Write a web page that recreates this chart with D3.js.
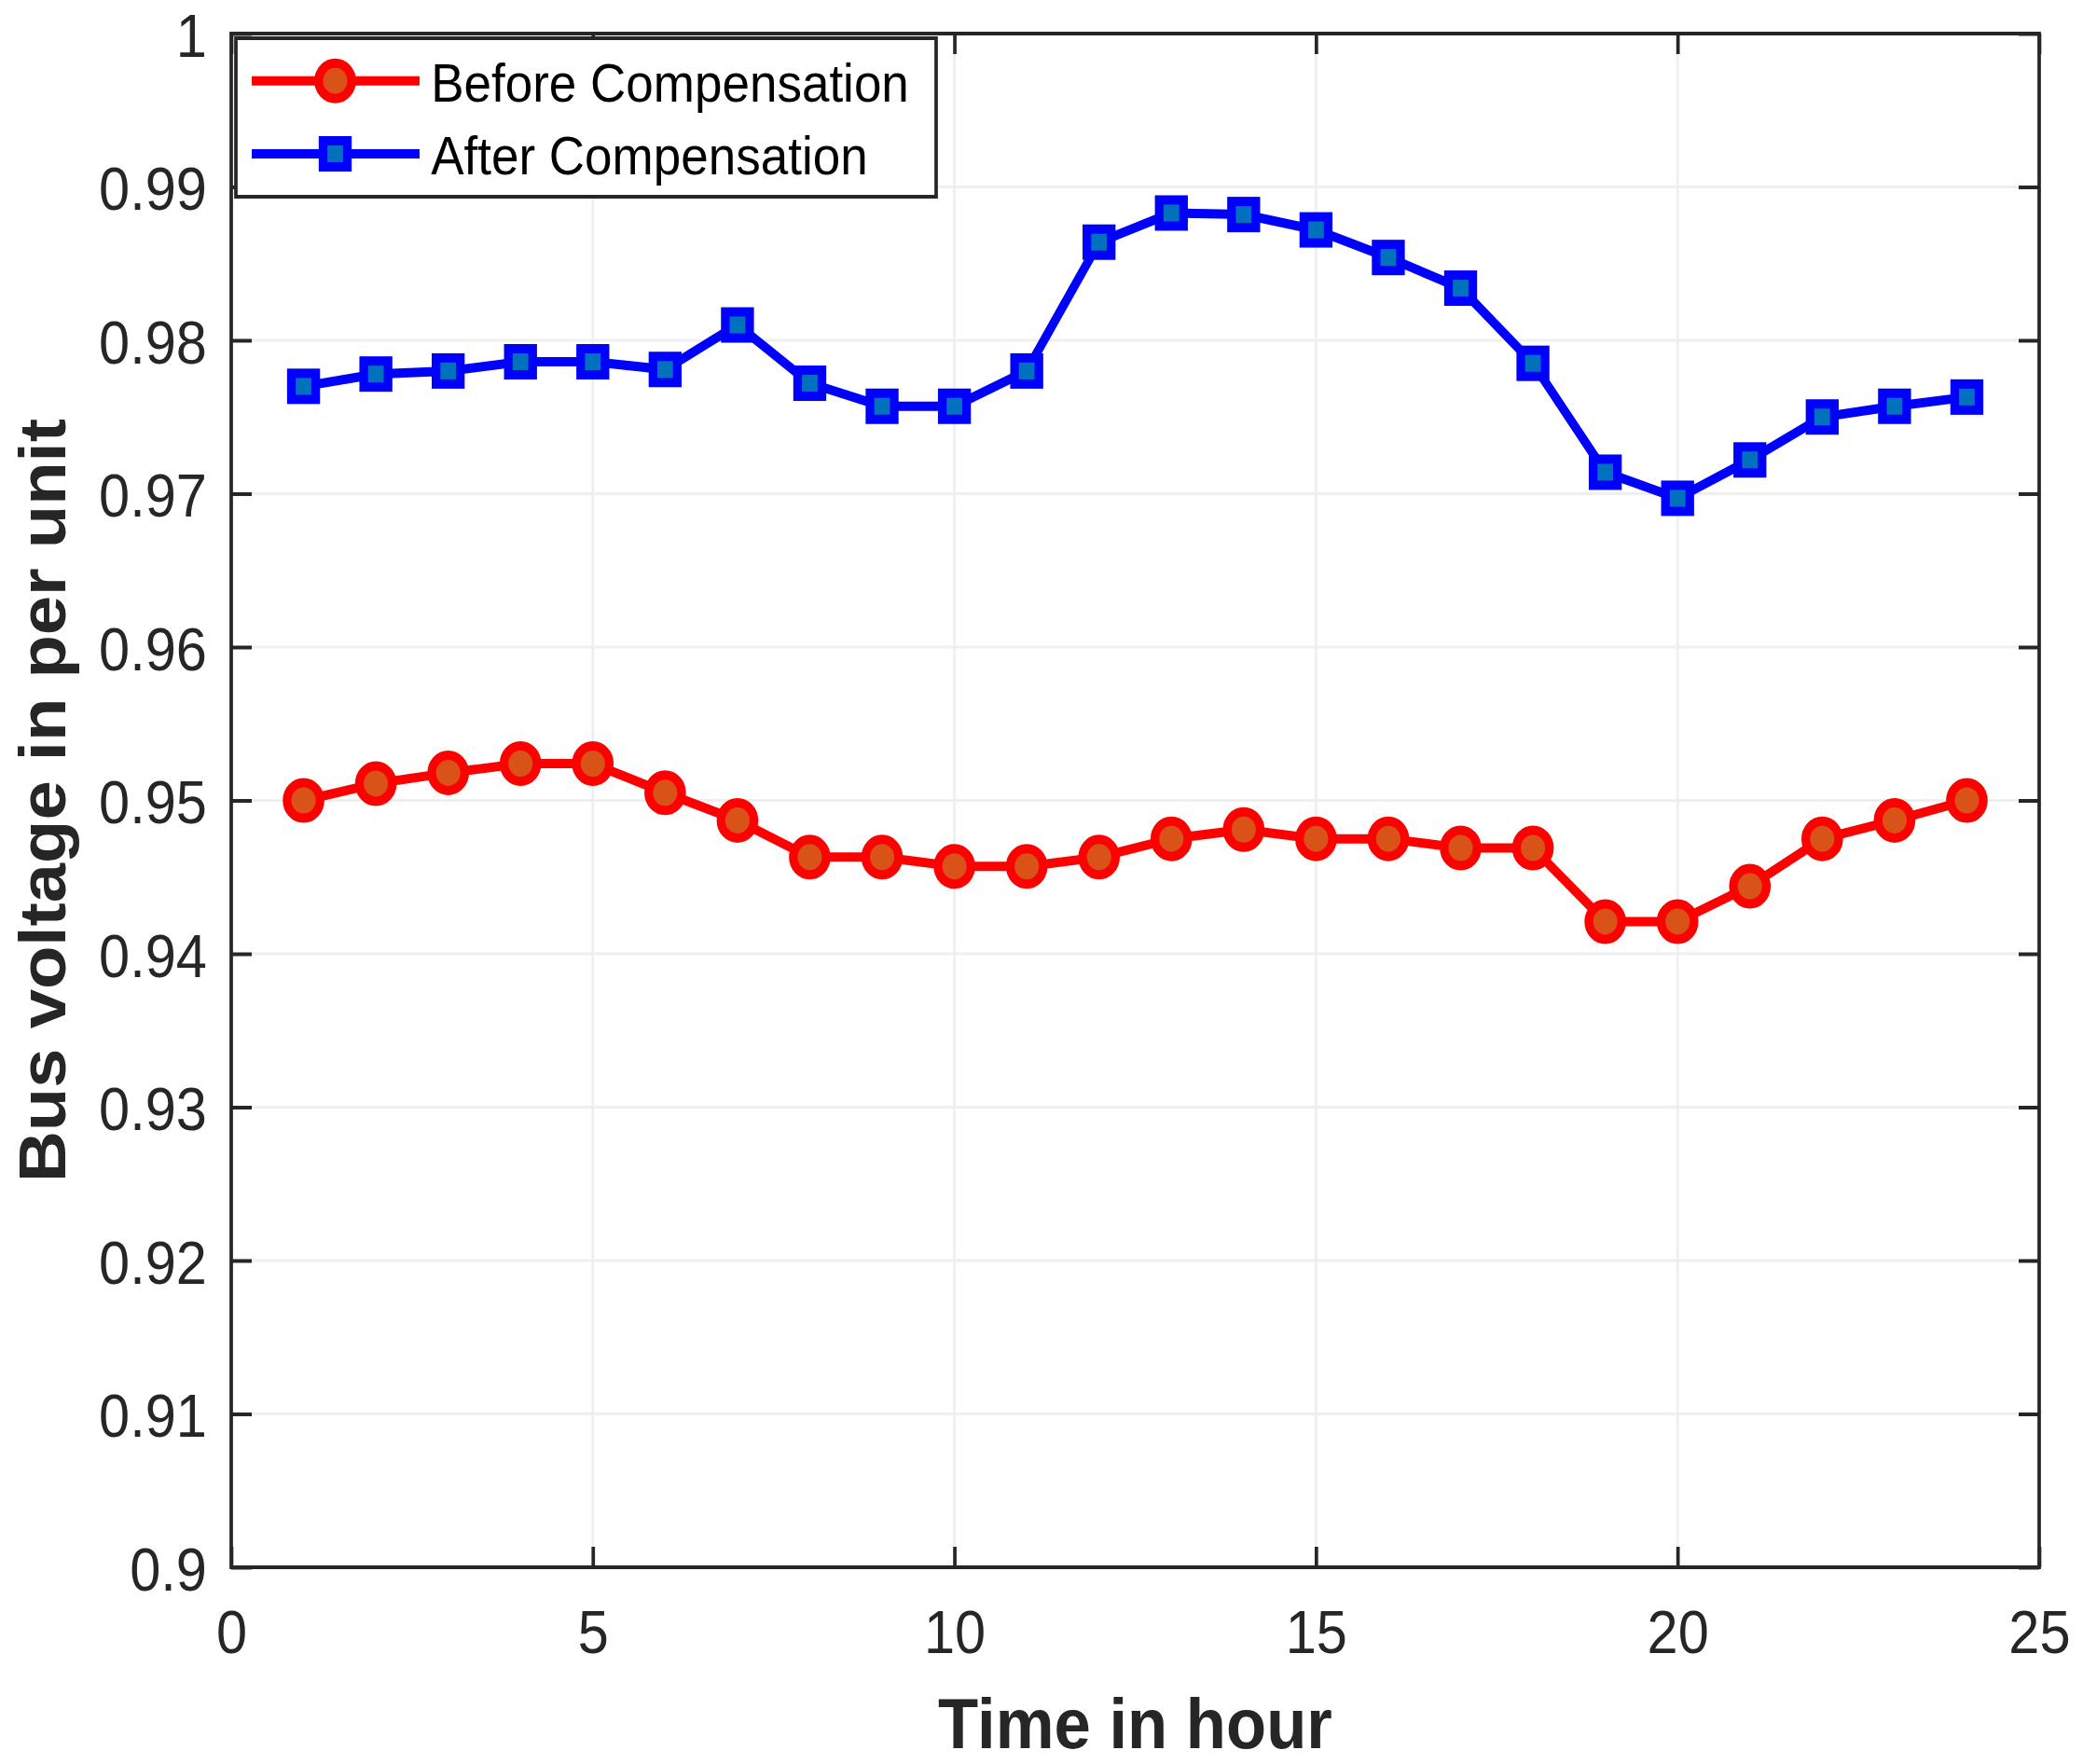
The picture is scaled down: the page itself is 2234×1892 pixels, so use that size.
<!DOCTYPE html>
<html>
<head>
<meta charset="utf-8">
<script src="https://cdn.jsdelivr.net/npm/d3@7"></script>
<style>
  html, body { margin: 0; padding: 0; background: #fff; }
  svg { display: block; }
</style>
</head>
<body>
<div id="chart"></div>
<script>
// hours of the day
const hours = [1, 2, 3, 4, 5, 6, 7, 8, 9, 10, 11, 12, 13, 14, 15, 16, 17, 18, 19, 20, 21, 22, 23, 24];

// bus voltage (p.u.) before / after compensation
const beforeComp = [0.9500, 0.9511, 0.9518, 0.9524, 0.9524, 0.9505, 0.9487, 0.9463, 0.9463, 0.9457, 0.9457, 0.9463,
                    0.9475, 0.9481, 0.9475, 0.9475, 0.9469, 0.9469, 0.9421, 0.9421, 0.9444, 0.9475, 0.9487, 0.9500];
const afterComp = [0.9770, 0.9778, 0.9780, 0.9786, 0.9786, 0.9781, 0.9810, 0.9772, 0.9757, 0.9757, 0.9780, 0.9864,
                   0.9883, 0.9882, 0.9872, 0.9854, 0.9834, 0.9785, 0.9714, 0.9697, 0.9722, 0.9750, 0.9757, 0.9763];

const seriesNames = ['Before Compensation', 'After Compensation'];

const xTicks = [0, 5, 10, 15, 20, 25];
const xTickLabels = ['0', '5', '10', '15', '20', '25'];
const yTicks = [0.9, 0.91, 0.92, 0.93, 0.94, 0.95, 0.96, 0.97, 0.98, 0.99, 1];
const yTickLabels = ['0.9', '0.91', '0.92', '0.93', '0.94', '0.95', '0.96', '0.97', '0.98', '0.99', '1'];

// the original figure is squashed a bit horizontally, so draw in a wider
// logical space and let the viewBox squeeze it
const W = 2234, H = 1892, K = 0.93;
const LW = W / K;
const font = '"Liberation Sans", Arial, Helvetica, sans-serif';
const axisColor = '#262626';

const plotL = 248 / K, plotR = 2187 / K, plotT = 36, plotB = 1681;

const svg = d3.select('#chart').append('svg')
  .attr('width', W).attr('height', H)
  .attr('viewBox', `0 0 ${LW} ${H}`)
  .attr('preserveAspectRatio', 'none');

svg.append('rect').attr('width', LW).attr('height', H).attr('fill', '#fff');

const x = d3.scaleLinear().domain([0, 25]).range([plotL, plotR]);
const y = d3.scaleLinear().domain([0.9, 1]).range([plotB, plotT]);

// grid
const grid = svg.append('g').attr('stroke', '#efefef').attr('stroke-width', 3);
grid.selectAll('line.gx').data(xTicks.slice(1, -1)).join('line')
  .attr('x1', d => x(d)).attr('x2', d => x(d)).attr('y1', plotT).attr('y2', plotB);
grid.selectAll('line.gy').data(yTicks.slice(1, -1)).join('line')
  .attr('x1', plotL).attr('x2', plotR).attr('y1', d => y(d)).attr('y2', d => y(d));

// axes with inward ticks
const tickLen = 22;
function styleAxis(g) {
  g.select('.domain').remove();
  g.selectAll('.tick line').attr('stroke', axisColor).attr('stroke-width', 4);
  g.selectAll('.tick text').attr('fill', axisColor).style('font-family', font).style('font-size', '64px');
}

const xAxis = svg.append('g').attr('transform', `translate(0,${plotB})`)
  .call(d3.axisBottom(x).tickValues(xTicks).tickFormat((d, i) => xTickLabels[i]).tickSizeInner(-tickLen).tickSizeOuter(0))
  .call(styleAxis);
xAxis.selectAll('.tick text').attr('y', 92).attr('dy', 0);

svg.append('g').attr('transform', `translate(0,${plotT})`)
  .call(d3.axisTop(x).tickValues(xTicks).tickFormat('').tickSizeInner(-tickLen).tickSizeOuter(0))
  .call(styleAxis);

const yAxis = svg.append('g').attr('transform', `translate(${plotL},0)`)
  .call(d3.axisLeft(y).tickValues(yTicks).tickFormat((d, i) => yTickLabels[i]).tickSizeInner(-tickLen / K).tickSizeOuter(0))
  .call(styleAxis);
yAxis.selectAll('.tick text').attr('x', -28).attr('dy', 24);

svg.append('g').attr('transform', `translate(${plotR},0)`)
  .call(d3.axisRight(y).tickValues(yTicks).tickFormat('').tickSizeInner(-tickLen / K).tickSizeOuter(0))
  .call(styleAxis);

// box
svg.append('rect')
  .attr('x', plotL).attr('y', plotT).attr('width', plotR - plotL).attr('height', plotB - plotT)
  .attr('fill', 'none').attr('stroke', axisColor).attr('stroke-width', 4);

// series
const series = [
  { name: seriesNames[0], values: beforeComp, line: '#ff0000', fill: '#d95319', marker: 'circle' },
  { name: seriesNames[1], values: afterComp, line: '#0000ff', fill: '#0072bd', marker: 'square' }
];

const line = d3.line().x(d => x(d[0])).y(d => y(d[1]));

function drawMarker(g, kind, s) {
  if (kind === 'circle') {
    g.append('circle').attr('r', 19)
      .attr('fill', s.fill).attr('stroke', s.line).attr('stroke-width', 10);
  } else {
    g.append('rect').attr('x', -14).attr('y', -14).attr('width', 28).attr('height', 28)
      .attr('fill', s.fill).attr('stroke', s.line).attr('stroke-width', 10);
  }
}

series.forEach(s => {
  const pts = hours.map((h, i) => [h, s.values[i]]);
  svg.append('path').datum(pts)
    .attr('fill', 'none').attr('stroke', s.line).attr('stroke-width', 10)
    .attr('stroke-linejoin', 'miter').attr('d', line);
  svg.append('g').selectAll('g').data(pts).join('g')
    .attr('transform', d => `translate(${x(d[0])},${y(d[1])})`)
    .each(function () { drawMarker(d3.select(this), s.marker, s); });
});

// legend
const lg = svg.append('g');
lg.append('rect')
  .attr('x', 253 / K).attr('y', 41).attr('width', (1004 - 253) / K).attr('height', 170)
  .attr('fill', '#fff').attr('stroke', axisColor).attr('stroke-width', 4);
const legendRows = [86.7, 165];
series.forEach((s, i) => {
  const ly = legendRows[i];
  lg.append('line').attr('x1', 270 / K).attr('x2', 450 / K).attr('y1', ly).attr('y2', ly)
    .attr('stroke', s.line).attr('stroke-width', 10);
  const m = lg.append('g').attr('transform', `translate(${359.5 / K},${ly})`);
  drawMarker(m, s.marker, s);
  lg.append('text').attr('x', 497).attr('y', ly + 22)
    .style('font-family', font).style('font-size', '57px').attr('fill', '#000')
    .text(s.name);
});

// axis titles
svg.append('text')
  .attr('x', (plotL + plotR) / 2).attr('y', 1875)
  .attr('text-anchor', 'middle').attr('fill', axisColor)
  .style('font-family', font).style('font-size', '76px').style('font-weight', 'bold')
  .text('Time in hour');

svg.append('text')
  .attr('transform', `translate(${70 / K},${(plotT + plotB) / 2}) rotate(-90)`)
  .attr('text-anchor', 'middle').attr('fill', axisColor)
  .style('font-family', font).style('font-size', '76px').style('font-weight', 'bold')
  .text('Bus voltage in per unit');
</script>
</body>
</html>
